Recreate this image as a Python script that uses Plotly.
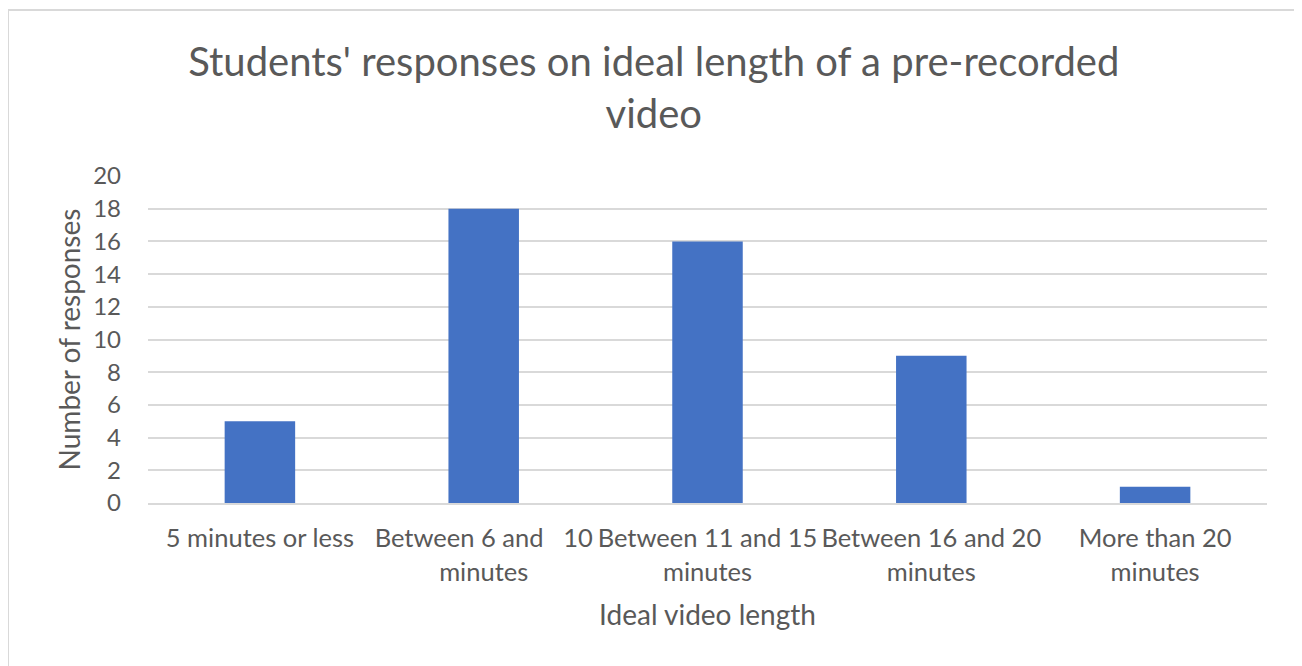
import plotly.graph_objects as go

categories = ["5 minutes or less", "Between 6 and 10 minutes", "Between 11 and 15 minutes",
              "Between 16 and 20 minutes", "More than 20 minutes"]
tick_labels = ["5 minutes or less", "Between 6 and\u00a0\u00a0 10<br>minutes", "Between 11 and 15<br>minutes",
               "Between 16 and 20<br>minutes", "More than 20<br>minutes"]
responses = [5, 18, 16, 9, 1]
y_ticks = [0, 2, 4, 6, 8, 10, 12, 14, 16, 18, 20]

FONT = "Lato"
TXT = "#595959"
GRID = "#D9D9D9"

fig = go.Figure(go.Bar(x=categories, y=responses, marker=dict(color="#4472C4", line=dict(width=0)),
                       width=0.315))

fig.update_layout(
    width=1302, height=666,
    paper_bgcolor="white", plot_bgcolor="white",
    margin=dict(l=140, r=43, t=168, b=171, autoexpand=False),
    font=dict(family=FONT, color=TXT),
    title=dict(text="Students' responses on ideal length of a pre-recorded<br>video",
               x=0.496, xanchor="center", xref="container",
               y=0.898, yanchor="top", yref="container",
               font=dict(size=40, color=TXT, family=FONT)),
    showlegend=False,
    shapes=[dict(type="rect", xref="paper", yref="paper",
                 x0=-0.1251, x1=1.0268, y0=-0.56, y1=1.5076,
                 line=dict(color=GRID, width=2), fillcolor="rgba(0,0,0,0)", layer="below")],
)
fig.update_yaxes(range=[0, 20], tickvals=y_ticks, showgrid=True, gridcolor=GRID, gridwidth=1.5,
                 zeroline=False, showline=False, tickfont=dict(size=24, color=TXT),
                 ticklabelstandoff=26, automargin=False,
                 title=dict(text="Number of responses", font=dict(size=28, color=TXT), standoff=4))
fig.update_xaxes(showline=True, linecolor=GRID, linewidth=1.5, tickvals=categories, ticktext=tick_labels,
                 tickangle=0,
                 tickfont=dict(size=25.5, color=TXT), ticklabelstandoff=12, automargin=False,
                 title=dict(text="Ideal video length", font=dict(size=28, color=TXT), standoff=21))

fig.write_html("out.html")
